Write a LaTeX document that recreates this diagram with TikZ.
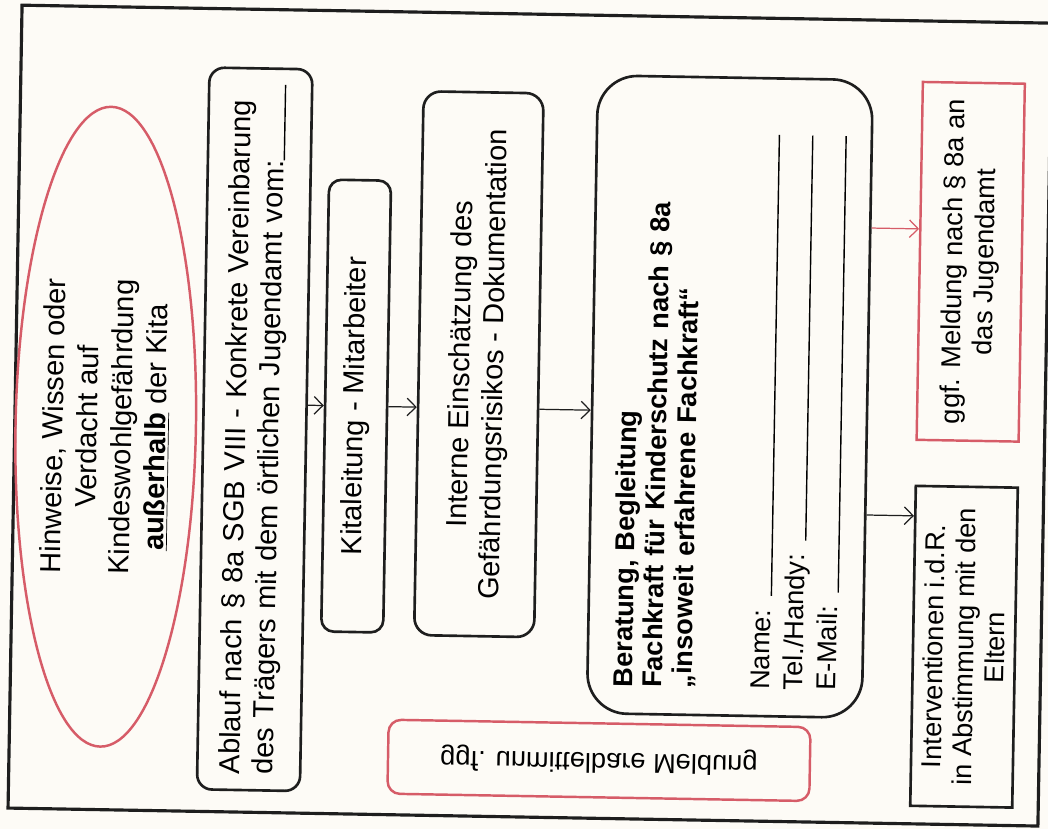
\documentclass[tikz,border=0pt]{standalone}
\usepackage{fontspec}
\setmainfont{Liberation Sans}
\usetikzlibrary{arrows.meta,shapes.geometric}
\definecolor{Ink}{RGB}{30,30,30}
\definecolor{LineRed}{RGB}{214,92,104}
\definecolor{Paper}{RGB}{253,251,246}
\newcommand{\Luecke}{\leavevmode\leaders\hrule height 0pt depth 0.8pt\hfill\kern0pt}

\begin{document}
\begin{tikzpicture}[x=0.02cm, y=-0.02cm,
    box/.style={draw=Ink, line width=1.5pt, rounded corners=0.3cm, rotate=90, align=center, inner sep=0pt, font=\fontsize{16.5}{19}\selectfont},
    redbox/.style={draw=LineRed, line width=1.4pt, align=center, inner sep=0pt, font=\fontsize{15.5}{18}\selectfont},
    arr/.style={-{Straight Barb[length=5pt,width=10pt]}, line width=0.7pt, draw=Ink},
    arrRed/.style={arr, draw=LineRed}
  ]
  \fill[Paper] (0,0) rectangle (1048,829);
  \useasboundingbox (0,0) rectangle (1048,829);

  \begin{scope}[rotate around={-1:(524,414)}, transform shape]
    \draw[Ink, line width=1.8pt] (15,14) rectangle (1045,817);

    \node[ellipse, draw=LineRed, line width=1.4pt, rotate=90, minimum width=12.8cm, minimum height=3.1cm, inner sep=0pt, align=center, font=\fontsize{16.5}{19.5}\selectfont] (hinweis) at (106,434)
      {Hinweise, Wissen oder\\Verdacht auf\\Kindeswohlgefährdung\\\underline{\textbf{außerhalb}} der Kita};

    \node[box, minimum width=14.44cm, minimum height=2.06cm, text width=13.8cm, align=left] (ablauf) at (255,434)
      {Ablauf nach § 8a SGB VIII - Konkrete Vereinbarung\\des Trägers mit dem örtlichen Jugendamt vom:\Luecke};
    \node[box, rounded corners=0.25cm, minimum width=9.04cm, minimum height=1.24cm] (kita) at (356,409)
      {Kitaleitung - Mitarbeiter};
    \node[box, rounded corners=0.35cm, minimum width=10.88cm, minimum height=2.4cm] (interne) at (478,365)
      {Interne Einschätzung des\\Gefährdungsrisikos - Dokumentation};
    \node[box, rounded corners=0.8cm, minimum width=12.76cm, minimum height=5.5cm, text width=11.7cm, align=left, font=\fontsize{15.5}{17}\selectfont] (beratung) at (729.5,393)
      {\textbf{Beratung, Begleitung}\\
       \textbf{Fachkraft für Kinderschutz nach § 8a}\\
       \textbf{„insoweit erfahrene Fachkraft“}\\[27pt]
       \makebox[11.1cm][l]{Name: \Luecke}\\[2pt]
       \makebox[11.1cm][l]{Tel./Handy: \Luecke}\\[2pt]
       \makebox[11.1cm][l]{E-Mail: \Luecke}};

    \node[redbox, rounded corners=0.25cm, yscale=-1, minimum width=8.44cm, minimum height=1.48cm] (unmittelbar) at (605,759)
      {ggf. unmittelbare Meldung};
    \node[redbox, rotate=90, minimum width=7.16cm, minimum height=2.04cm] (meldung) at (968,254)
      {ggf. Meldung nach § 8a an\\das Jugendamt};
    \node[box, rounded corners=0pt, minimum width=6.4cm, minimum height=2.04cm, font=\fontsize{15.5}{17.5}\selectfont] (interv) at (968,639)
      {Interventionen i.d.R.\\in Abstimmung mit den\\Eltern};

    \draw[arr] (ablauf.south |- kita.north) -- (kita.north);
    \draw[arr] (kita.south) -- (kita.south -| interne.north);
    \draw[arr] (kita.south -| interne.south) -- (kita.south -| beratung.north);
    \path (meldung.north) ++(0,-32) coordinate (meldIn);
    \draw[arrRed] (beratung.south |- meldIn) -- (meldIn);
    \path (interv.north) ++(0,-130) coordinate (intervIn);
    \draw[arr] (beratung.south |- intervIn) -- (intervIn);
  \end{scope}
\end{tikzpicture}
\end{document}
